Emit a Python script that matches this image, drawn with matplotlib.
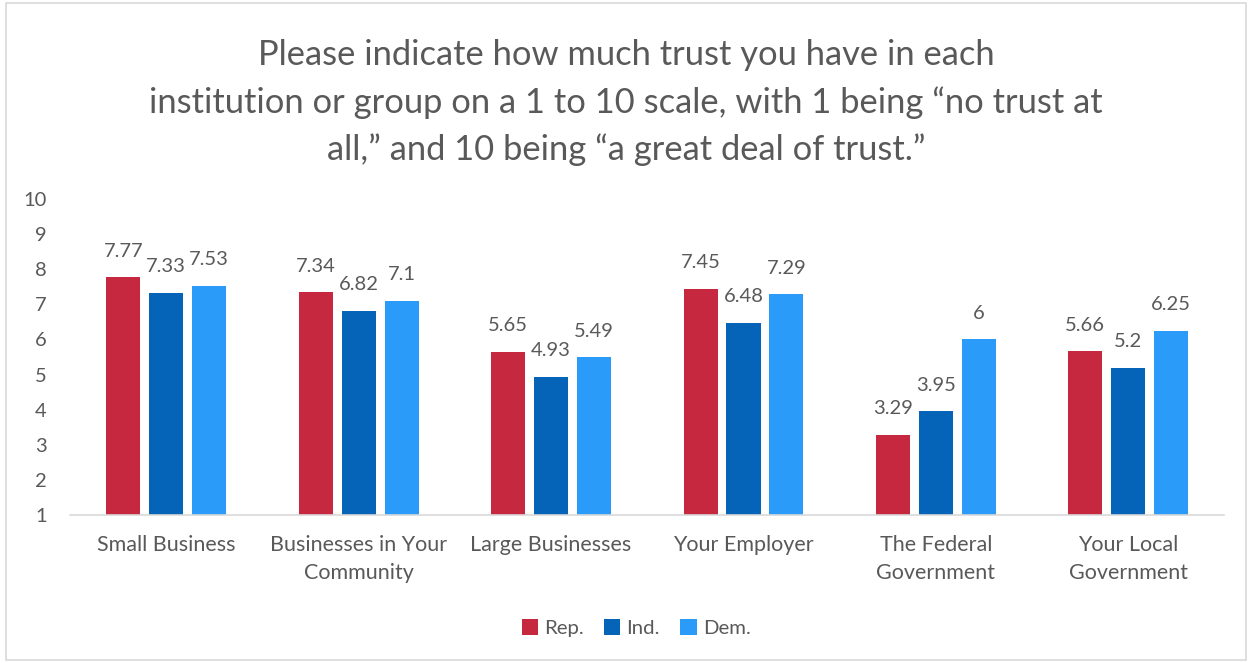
import matplotlib.pyplot as plt
import numpy as np

plt.rcParams['font.family'] = ['Lato', 'DejaVu Sans']

categories = ['Small Business', 'Businesses in Your\nCommunity', 'Large Businesses',
              'Your Employer', 'The Federal\nGovernment', 'Your Local\nGovernment']
rep = [7.77, 7.34, 5.65, 7.45, 3.29, 5.66]
ind = [7.33, 6.82, 4.93, 6.48, 3.95, 5.2]
dem = [7.53, 7.1, 5.49, 7.29, 6, 6.25]
series_names = ['Rep.', 'Ind.', 'Dem.']
y_ticks = list(range(1, 11))

colors = ['#C5283F', '#0563B8', '#2B9BF9']
text_color = '#595959'

fig = plt.figure(figsize=(12.52, 6.63), dpi=100)
ax = fig.add_axes([0.056, 0.223, 0.922, 0.477])

x = np.arange(len(categories))
offset = 0.223
width = 0.177
for i, (vals, name) in enumerate(zip([rep, ind, dem], series_names)):
    pos = x + (i - 1) * offset
    ax.bar(pos, np.array(vals) - 1, width, bottom=1, color=colors[i], label=name)
    for p, v in zip(pos, vals):
        ax.text(p, v + 0.5, f'{v:g}', ha='center', va='bottom', fontsize=14.5, color=text_color)

ax.set_ylim(1, 10)
ax.set_xlim(-0.5, len(categories) - 0.5)
ax.set_yticks(y_ticks)
ax.set_xticks(x)
ax.set_xticklabels(categories, linespacing=1.5)
ax.tick_params(axis='both', length=0, labelsize=14.5, colors=text_color)
ax.tick_params(axis='x', labelsize=15.5, pad=14)
ax.tick_params(axis='y', pad=17)
for s in ['top', 'right', 'left']:
    ax.spines[s].set_visible(False)
ax.spines['bottom'].set_color('#D9D9D9')
ax.spines['bottom'].set_linewidth(1.2)

fig.suptitle('Please indicate how much trust you have in each\ninstitution or group on a 1 to 10 scale, with 1 being “no trust at\nall,” and 10 being “a great deal of trust.”',
             y=0.941, fontsize=24.8, color=text_color, linespacing=1.55)

leg = fig.legend(loc='center', bbox_to_anchor=(0.508, 0.053), ncol=3, frameon=False,
                 fontsize=14.7, handlelength=0.8, handleheight=0.8, handletextpad=0.3,
                 columnspacing=1.0)
for t in leg.get_texts():
    t.set_color(text_color)

border = plt.Rectangle((0.005, 0.005), 0.99, 0.99, transform=fig.transFigure,
                       fill=False, edgecolor='#D9D9D9', linewidth=1.2)
fig.patches.append(border)

fig.savefig('out.png', dpi=100)
